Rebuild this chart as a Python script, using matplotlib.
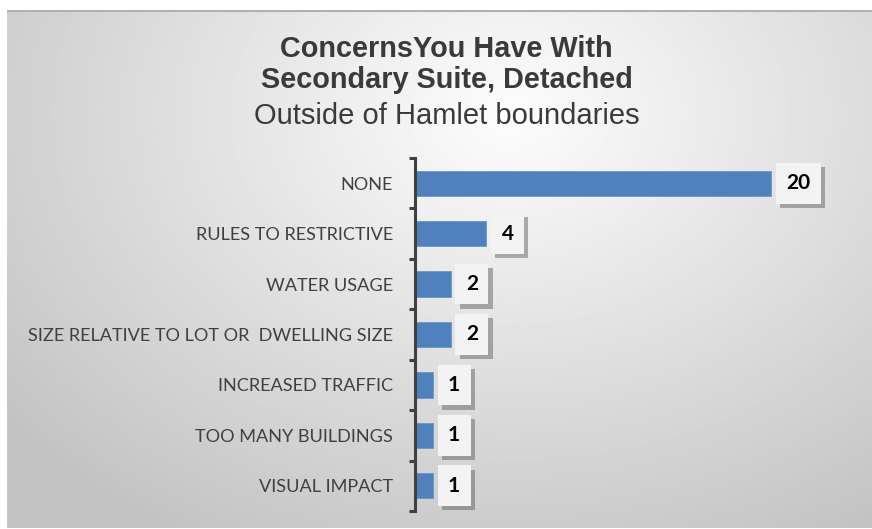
import numpy as np
import matplotlib.pyplot as plt
import matplotlib.patheffects as pe

# survey counts
categories = ['NONE', 'RULES TO RESTRICTIVE', 'WATER USAGE',
              'SIZE RELATIVE TO LOT OR  DWELLING SIZE', 'INCREASED TRAFFIC',
              'TOO MANY BUILDINGS', 'VISUAL IMPACT']
counts = [20, 4, 2, 2, 1, 1, 1]

W, H = 872, 529
fig = plt.figure(figsize=(W/100, H/100), dpi=100)
fig.patch.set_facecolor('white')

# grey radial gradient panel behind everything
bg = fig.add_axes([7/W, 1/H, (W-7)/W, (H-11)/H], zorder=-5)
yy, xx = np.mgrid[0:1:300j, 0:1:500j]
r = np.sqrt(((xx - 0.58)/0.75)**2 + ((yy - 0.2)/0.95)**2)
shade = np.clip(253 - 58*r, 195, 253)/255
bg.imshow(shade, cmap='gray', vmin=0, vmax=1, aspect='auto',
          extent=[0, 1, 1, 0], interpolation='bilinear')
bg.plot([0, 1], [0.002, 0.002], color='#b0b0b0', lw=1.5)
bg.set_xlim(0, 1)
bg.set_ylim(1, 0)
bg.axis('off')

# titles
tc = '#3a3a3a'
fig.text(0.512, 1 - 56.7/H, 'ConcernsYou Have With', ha='center', va='baseline',
         fontsize=20.8, fontweight='bold', family='Liberation Sans', color=tc)
fig.text(0.512, 1 - 88.3/H, 'Secondary Suite, Detached', ha='center', va='baseline',
         fontsize=20.8, fontweight='bold', family='Liberation Sans', color=tc)
fig.text(0.512, 1 - 124.3/H, 'Outside of Hamlet boundaries', ha='center', va='baseline',
         fontsize=21, family='Liberation Sans', color=tc)

x0, x1 = 415, 415 + 17.8*24
ax = fig.add_axes([x0/W, 1 - 511/H, (x1 - x0)/W, 353/H])
ax.set_facecolor('none')
y = np.arange(len(categories))
ax.barh(y, counts, height=0.5, color='#4f81bd', edgecolor='#6a96cc', lw=0.6)
ax.set_xlim(0, 24)
ax.set_ylim(len(categories) - 0.5, -0.5)

for s in ['top', 'right', 'bottom']:
    ax.spines[s].set_visible(False)
ax.spines['left'].set_color('#404040')
ax.spines['left'].set_linewidth(2.2)
ax.set_xticks([])
ax.set_yticks(y)
ax.set_yticklabels(categories, family='Lato', fontsize=13.1, color='#404040')
ax.tick_params(axis='y', which='major', length=0, pad=16)
ax.set_yticks(np.arange(-0.5, len(categories)), minor=True)
ax.tick_params(axis='y', which='minor', length=4.5, width=2.2, color='#404040')

for yi, v in zip(y, counts):
    t = ax.annotate(str(v), xy=(v, yi), xytext=(11, 0), textcoords='offset points',
                    ha='left', va='center', fontsize=15, fontweight='bold',
                    family='Lato', color='black',
                    bbox=dict(boxstyle='square,pad=0.5', fc='#f3f3f3', ec='none'))
    t.get_bbox_patch().set_path_effects([
        pe.SimplePatchShadow(offset=(3, -3), shadow_rgbFace='#555555', alpha=0.45),
        pe.Normal()])

plt.savefig('out.png', dpi=100)
